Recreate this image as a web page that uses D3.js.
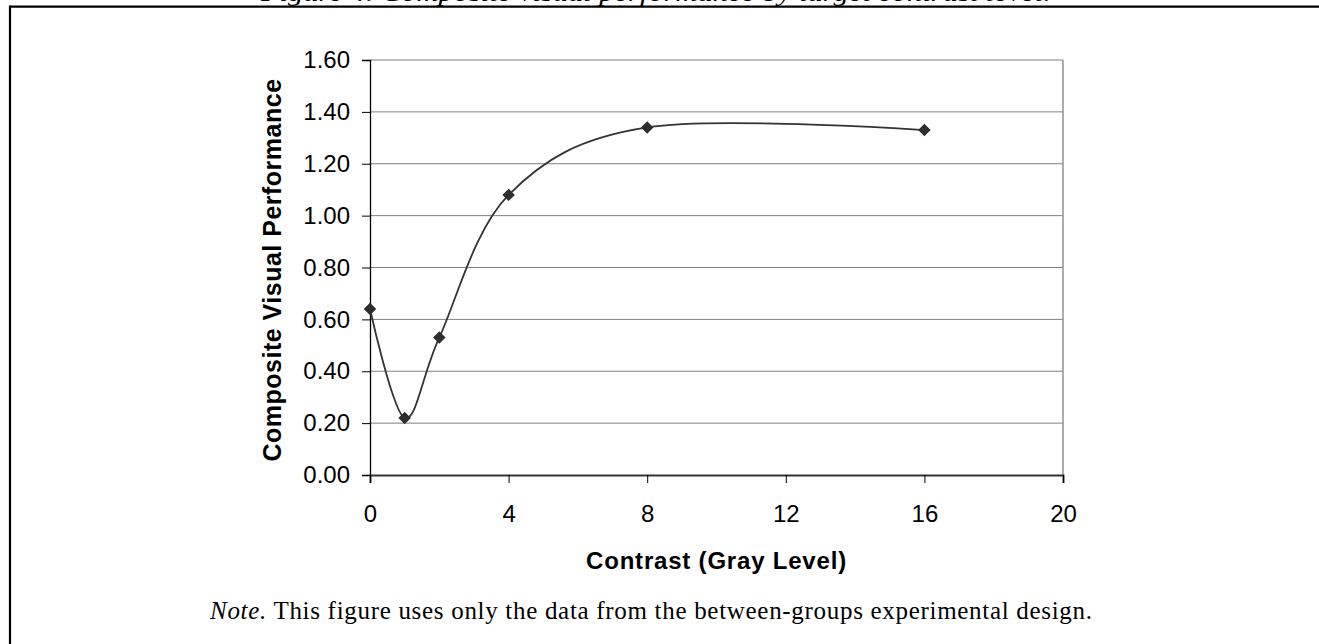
<!DOCTYPE html>
<html><head><meta charset="utf-8">
<script src="https://cdn.jsdelivr.net/npm/d3@7/dist/d3.min.js"></script>
<style>
html,body{margin:0;padding:0;background:#fff;overflow:hidden;}
svg{display:block;}
</style></head>
<body>
<svg id="chart" width="1319" height="644"></svg>
<script>
const contrast = [0, 1, 2, 4, 8, 16];
const performance = [0.64, 0.22, 0.53, 1.08, 1.34, 1.33];
const xTicks = [0, 4, 8, 12, 16, 20];
const yTicks = [0, 0.2, 0.4, 0.6, 0.8, 1.0, 1.2, 1.4, 1.6];
const figureTitle = "Figure 4. Composite visual performance by target contrast level.";
const xTitle = "Contrast (Gray Level)";
const yTitle = "Composite Visual Performance";
const noteLead = "Note.";
const noteText = " This figure uses only the data from the between-groups experimental design.";

const svg = d3.select("#chart");
const L = 370, R = 1063, T = 60, B = 475;
const x = d3.scaleLinear().domain([0, 20]).range([L, R]);
const y = d3.scaleLinear().domain([0, 1.6]).range([B, T]);

// frame
svg.append("line").attr("x1", 10).attr("x2", 1319).attr("y1", 6.7).attr("y2", 6.7)
  .attr("stroke", "#000").attr("stroke-width", 2.2);
svg.append("line").attr("x1", 10).attr("x2", 10).attr("y1", 5.6).attr("y2", 644)
  .attr("stroke", "#000").attr("stroke-width", 2.2);

// figure caption (cut off at top)
svg.append("text").attr("x", 656).attr("y", 1.2).attr("text-anchor", "middle")
  .attr("font-family", "Liberation Serif, Times New Roman, serif").attr("font-style", "italic")
  .attr("font-size", 26).attr("textLength", 790).attr("lengthAdjust", "spacingAndGlyphs")
  .attr("fill", "#000").text(figureTitle);

// gridlines
svg.append("g").selectAll("line").data(yTicks.filter(d => d > 0)).join("line")
  .attr("x1", L).attr("x2", R).attr("y1", d => y(d)).attr("y2", d => y(d))
  .attr("stroke", "#808080").attr("stroke-width", 1);
// right border
svg.append("line").attr("x1", R).attr("x2", R).attr("y1", T).attr("y2", B)
  .attr("stroke", "#909090").attr("stroke-width", 1.5);

// y axis
const yAxis = svg.append("g").attr("transform", `translate(${L},0)`)
  .call(d3.axisLeft(y).tickValues(yTicks).tickFormat(d3.format(".2f")).tickSize(8).tickPadding(12));
yAxis.select(".domain").attr("stroke", "#000").attr("stroke-width", 1.3);
yAxis.selectAll(".tick line").attr("stroke", "#000").attr("stroke-width", 1);
yAxis.selectAll("text").attr("font-family", "Liberation Sans, Arial, sans-serif")
  .attr("font-size", 24).attr("fill", "#000");

// x axis
const xAxis = svg.append("g").attr("transform", `translate(0,${B})`)
  .call(d3.axisBottom(x).tickValues(xTicks).tickFormat(d3.format("d")).tickSize(8).tickPadding(22));
xAxis.select(".domain").attr("stroke", "#333").attr("stroke-width", 2);
xAxis.selectAll(".tick line").attr("stroke", "#000").attr("stroke-width", 1);
xAxis.selectAll("text").attr("font-family", "Liberation Sans, Arial, sans-serif")
  .attr("font-size", 24).attr("fill", "#000");

// smooth line
const line = d3.line().x((d, i) => x(contrast[i])).y(d => y(d)).curve(d3.curveCardinal.tension(0));
svg.append("path").datum(performance).attr("d", line)
  .attr("fill", "none").attr("stroke", "#333").attr("stroke-width", 1.8);

// markers
svg.append("g").selectAll("path").data(performance).join("path")
  .attr("d", d3.symbol().type(d3.symbolSquare).size(78))
  .attr("transform", (d, i) => `translate(${x(contrast[i])},${y(d)}) rotate(45)`)
  .attr("fill", "#2e2e2e");

// axis titles
svg.append("text").attr("x", (L + R) / 2).attr("y", 569).attr("text-anchor", "middle")
  .attr("font-family", "Liberation Sans, Arial, sans-serif").attr("font-weight", "bold")
  .attr("font-size", 24).attr("letter-spacing", 0.8).attr("fill", "#000").text(xTitle);
svg.append("text").attr("transform", `translate(281,270) rotate(-90)`).attr("text-anchor", "middle")
  .attr("font-family", "Liberation Sans, Arial, sans-serif").attr("font-weight", "bold")
  .attr("font-size", 25).attr("letter-spacing", 0.5).attr("fill", "#000").text(yTitle);

// note
const note = svg.append("text").attr("x", 651).attr("y", 619).attr("text-anchor", "middle")
  .attr("font-family", "Liberation Serif, Times New Roman, serif").attr("font-size", 25)
  .attr("textLength", 882).attr("lengthAdjust", "spacing").attr("fill", "#000");
note.append("tspan").attr("font-style", "italic").text(noteLead);
note.append("tspan").text(noteText);
</script>
</body></html>
